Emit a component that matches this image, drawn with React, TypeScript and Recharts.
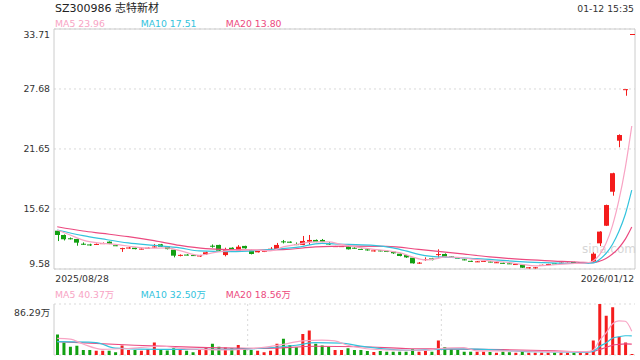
import { ComposedChart, Bar, Line, XAxis, YAxis, CartesianGrid, ReferenceArea, Cell } from 'recharts'

// daily K-line, 2025/08/28 .. 2026/01/12 (90 sessions)
const opens = [
  13.43, 13.0, 12.67, 12.6, 12.12, 12.05, 12.05, 12.12, 12.33, 11.97,
  11.62, 11.7, 11.72, 11.58, 11.68, 11.8, 12.06, 11.82, 11.52, 10.96,
  11.03, 10.98, 10.84, 11.06, 11.92, 12.0, 10.98, 11.72, 11.39, 11.9,
  11.49, 11.26, 11.3, 11.58, 11.6, 12.36, 12.33, 12.08, 12.0, 12.33,
  12.5, 12.5, 12.14, 11.83, 11.83, 11.82, 11.72, 11.6, 11.55, 11.35,
  11.45, 11.4, 11.32, 11.12, 10.98, 10.72, 10.18, 10.52, 10.65, 11.04,
  11.09, 10.85, 10.72, 10.55, 10.4, 10.3, 10.35, 10.33, 10.22, 10.2,
  10.15, 10.0, 10.02, 9.65, 9.65, 9.95, 10.03, 10.15, 10.13, 10.17,
  10.28, 10.23, 10.21, 10.32, 12.16, 13.93, 17.35, 22.48, 27.66, 33.19,
]
const highs = [
  13.5, 13.05, 12.75, 12.62, 12.25, 12.12, 12.15, 12.25, 12.36, 12.0,
  11.72, 11.8, 11.74, 11.66, 11.75, 12.1, 12.1, 11.85, 11.55, 11.05,
  11.08, 11.0, 11.0, 11.32, 12.05, 12.02, 11.72, 11.76, 11.98, 11.92,
  11.52, 11.42, 11.42, 11.78, 12.2, 12.5, 12.36, 12.25, 12.9, 13.0,
  12.55, 12.6, 12.3, 11.9, 11.9, 11.85, 11.78, 11.63, 11.6, 11.48,
  11.48, 11.42, 11.35, 11.15, 11.0, 10.75, 10.28, 10.75, 10.7, 11.56,
  11.15, 10.88, 10.75, 10.58, 10.42, 10.38, 10.42, 10.35, 10.28, 10.22,
  10.17, 10.1, 10.04, 9.78, 9.78, 10.02, 10.1, 10.17, 10.24, 10.22,
  10.3, 10.28, 10.25, 11.26, 13.38, 16.05, 19.26, 23.12, 27.66, 33.19,
]
const lows = [
  12.39, 12.45, 12.55, 11.92, 12.0, 11.9, 12.0, 12.1, 12.08, 11.88,
  11.3, 11.62, 11.55, 11.55, 11.65, 11.72, 11.8, 11.55, 10.75, 10.85,
  10.95, 10.9, 10.8, 11.0, 11.72, 11.38, 10.85, 11.45, 11.36, 11.62,
  11.05, 11.24, 11.28, 11.4, 11.58, 12.15, 12.2, 11.98, 11.98, 12.0,
  12.28, 12.28, 12.0, 11.8, 11.8, 11.54, 11.62, 11.53, 11.42, 11.33,
  11.35, 11.28, 11.1, 10.85, 10.7, 10.12, 10.1, 10.4, 10.45, 10.72,
  10.75, 10.75, 10.62, 10.45, 10.3, 10.28, 10.32, 10.25, 10.2, 10.12,
  10.08, 9.98, 9.69, 9.62, 9.62, 9.93, 10.01, 10.08, 10.11, 10.15,
  10.2, 10.21, 10.19, 10.3, 11.89, 13.9, 16.95, 21.82, 27.0, 33.19,
]
const closes = [
  13.0, 12.57, 12.57, 12.23, 12.06, 11.98, 12.1, 12.18, 12.1, 11.92,
  11.68, 11.74, 11.58, 11.63, 11.72, 11.84, 11.82, 11.58, 10.92, 11.0,
  11.0, 10.93, 10.98, 11.26, 11.88, 11.42, 11.56, 11.49, 11.82, 11.66,
  11.09, 11.39, 11.4, 11.62, 12.0, 12.32, 12.22, 12.05, 12.4, 12.5,
  12.3, 12.3, 12.1, 11.88, 11.88, 11.56, 11.68, 11.56, 11.45, 11.45,
  11.38, 11.3, 11.16, 10.89, 10.75, 10.15, 10.22, 10.58, 10.48, 11.08,
  10.78, 10.78, 10.68, 10.5, 10.35, 10.35, 10.4, 10.28, 10.26, 10.15,
  10.1, 10.08, 9.71, 9.75, 9.75, 10.0, 10.08, 10.1, 10.22, 10.2,
  10.22, 10.26, 10.23, 11.12, 13.34, 16.01, 19.21, 23.05, 27.66, 33.19,
]
// volume, 万股
const volumes = [
  34.5, 21, 14, 15.5, 8.6, 8.6, 7, 7, 7, 4.6,
  16, 8.6, 8.6, 7, 10, 21, 10, 7.5, 11.5, 8.6,
  7, 4.6, 8.6, 12.7, 19, 14, 12.7, 11.5, 17, 11.5,
  8.6, 7, 4.6, 7, 19, 27.6, 17, 13, 35.7, 41.4,
  19, 16, 14, 8.6, 8.5, 11.4, 8.5, 8.5, 6.8, 5.1,
  6.8, 5.7, 5.7, 5.7, 5.7, 10.2, 5.7, 6.8, 5.7, 24.4,
  13.6, 9.7, 8.5, 5.7, 5.7, 5.7, 5.7, 5.1, 4, 5.7,
  4.5, 4, 6.8, 4, 4, 4, 4, 4, 4, 4,
  4, 4, 4, 24.4, 86.29, 66.5, 80.7, 31, 21, 1.7,
]

// moving averages as [session, value]
const ma5Pts: [number, number][] = [
  [1, 13.5], [3, 13.0], [5, 12.49], [8, 12.15], [10, 12.06], [13, 11.8], [15, 11.67], [18, 11.7],
  [20, 11.43], [23, 10.95], [25, 11.2], [28, 11.45], [31, 11.5], [34, 11.4], [36, 11.8], [38, 12.05],
  [41, 12.3], [43, 12.3], [45, 12.05], [48, 11.72], [50, 11.56], [52, 11.43], [54, 11.22], [56, 10.8],
  [58, 10.5], [60, 10.65], [61, 10.8], [63, 10.75], [65, 10.6], [68, 10.4], [71, 10.22], [73, 10.05],
  [75, 9.9], [77, 9.95], [80, 10.1], [83, 10.2], [84, 10.39], [85, 11.0], [86, 12.14], [87, 13.92],
  [88, 16.47], [89, 19.78], [90, 23.96],
]
const ma10Pts: [number, number][] = [
  [1, 13.5], [5, 12.93], [8, 12.6], [12, 12.2], [16, 11.95], [20, 11.7], [23, 11.4], [28, 11.32],
  [33, 11.49], [38, 11.75], [42, 12.15], [46, 12.05], [50, 11.95], [53, 11.7], [55, 11.4], [57, 11.05],
  [59, 10.85], [62, 10.75], [65, 10.65], [68, 10.55], [72, 10.35], [76, 10.22], [80, 10.15], [83, 10.15],
  [84, 10.19], [85, 10.54], [86, 11.14], [87, 12.05], [88, 13.34], [89, 15.08], [90, 17.51],
]
const ma20Pts: [number, number][] = [
  [1, 13.83], [5, 13.4], [8, 13.16], [12, 12.83], [16, 12.43], [20, 11.95], [24, 11.62], [28, 11.52],
  [32, 11.49], [36, 11.52], [41, 11.8], [46, 11.88], [52, 11.85], [57, 11.56], [63, 11.16], [68, 10.8],
  [73, 10.55], [78, 10.38], [82, 10.25], [84, 10.21], [85, 10.36], [86, 10.64], [87, 11.08], [88, 11.71],
  [89, 12.58], [90, 13.8],
]
const vma5Pts: [number, number][] = [
  [1, 28], [3, 27], [5, 18.6], [8, 9.6], [12, 11], [17, 14.8], [21, 10.5], [23, 9.6], [28, 8.5],
  [33, 13], [36, 18], [39, 24], [42, 25], [44, 24], [46, 16.5], [52, 8.5], [58, 8], [60, 10.6],
  [62, 12], [64, 12.4], [66, 7], [72, 7], [80, 5.6], [83, 5.6], [84, 8.1], [85, 24.5], [86, 37],
  [87, 52.4], [88, 57.8], [89, 57.1], [90, 40.37],
]
const vma10Pts: [number, number][] = [
  [1, 22.5], [7, 21], [10, 11.6], [17, 9.6], [28, 9.6], [38, 16.5], [41, 20.8], [45, 20], [48, 15],
  [52, 10], [56, 8], [62, 10.5], [66, 10], [70, 8], [75, 5.5], [83, 5], [84, 6.2], [85, 14.3],
  [86, 20.5], [87, 28.2], [88, 30.9], [89, 32.6], [90, 32.5],
]
const vma20Pts: [number, number][] = [
  [1, 22.5], [13, 16.5], [23, 13], [33, 11], [41, 14.8], [48, 14], [55, 11], [62, 10], [70, 9],
  [78, 7], [83, 5.5], [84, 6], [85, 9.5], [86, 12.6], [87, 16.5], [88, 18], [89, 18.8], [90, 18.56],
]

const dateLabels = ['2025/08/28', '2026/01/12']
const priceTicks = [9.58, 15.62, 21.65, 27.68, 33.71]
const volTicks = [0, 86.29]
const title = 'SZ300986 志特新材'
const timeText = '01-12 15:35'
const priceLegend = ['MA5 23.96', 'MA10 17.51', 'MA20 13.80']
const volLegend = ['MA5 40.37万', 'MA10 32.50万', 'MA20 18.56万']

const FONT = '"DejaVu Sans", "Noto Sans CJK SC", sans-serif'
const RED = '#f41c1c'
const GREEN = '#12a012'
const C_MA5 = '#f8a4c4'
const C_MA10 = '#33c3dd'
const C_MA20 = '#ec4a80'
const GRID = '#d9d9d9'
const BORDER = '#cccccc'
const TEXT = '#333'
const MA_COLORS = [C_MA5, C_MA10, C_MA20]

const N = closes.length
const fromPts = (pts: [number, number][]) => {
  const arr: (number | null)[] = new Array(N).fill(null)
  pts.forEach(([b, v]) => (arr[b - 1] = v))
  return arr
}
const ma5 = fromPts(ma5Pts)
const ma10 = fromPts(ma10Pts)
const ma20 = fromPts(ma20Pts)
const vma5 = fromPts(vma5Pts)
const vma10 = fromPts(vma10Pts)
const vma20 = fromPts(vma20Pts)

const rows = closes.map((c, i) => ({
  i,
  open: opens[i],
  high: highs[i],
  low: lows[i],
  close: c,
  vol: volumes[i],
  up: c >= opens[i],
  ma5: ma5[i],
  ma10: ma10[i],
  ma20: ma20[i],
  vma5: vma5[i],
  vma10: vma10[i],
  vma20: vma20[i],
}))

function Candle(props: any) {
  const { x, y, width, height, payload } = props
  if (x == null || y == null) return <g />
  const { open, close, high, low, up } = payload
  const color = up ? RED : GREEN
  const bx = Math.round(x)
  const bw = Math.round(width)
  const span = high - low
  // one-price day (limit up at the open): just a flat dash
  if (span <= 0) {
    const yy = Math.round(y) + 0.5
    return <line x1={bx} x2={bx + bw} y1={yy} y2={yy} stroke={color} strokeWidth={1} />
  }
  const cx = Math.round(x + width / 2) + 0.5
  const k = height / span
  const at = (v: number) => y + (high - v) * k
  const top = at(Math.max(open, close))
  const bodyH = Math.max(1, at(Math.min(open, close)) - top)
  return (
    <g>
      <line x1={cx} x2={cx} y1={y} y2={y + height} stroke={color} strokeWidth={1} />
      <rect x={bx} y={top} width={bw} height={bodyH} fill={color} />
    </g>
  )
}

function PriceTick(props: any) {
  const { x, y, payload } = props
  const v = payload.value
  const dy = v === priceTicks[priceTicks.length - 1] ? 8.5 : v === priceTicks[0] ? -1.7 : 3.3
  return (
    <text x={x} y={y + dy} textAnchor="end" fill={TEXT} fontSize={9.3} fontFamily={FONT}>
      {v.toFixed(2)}
    </text>
  )
}

function VolTick(props: any) {
  const { x, y, payload } = props
  const v = payload.value
  const dy = v === 0 ? -3.3 : 11.7
  return (
    <text x={x} y={y + dy} textAnchor="end" fill={TEXT} fontSize={9.3} fontFamily={FONT}>
      {v === 0 ? '0' : `${v.toFixed(2)}万`}
    </text>
  )
}

function DateTick(props: any) {
  const { x, y, payload } = props
  const idx = payload.value
  if (idx !== 0 && idx !== N - 1) return <g />
  const first = idx === 0
  return (
    <text
      x={first ? x - 2 : x + 2.5}
      y={y + 12.7}
      textAnchor={first ? 'start' : 'end'}
      fill={TEXT}
      fontSize={9.3}
      fontFamily={FONT}
    >
      {first ? dateLabels[0] : dateLabels[1]}
    </text>
  )
}

export default function App() {
  const legendX = [55, 140.7, 225.7]
  return (
    <div style={{ position: 'absolute', left: 0, top: 0, width: 640, height: 360, background: '#fff', fontFamily: FONT }}>
      <svg width={640} height={360} style={{ position: 'absolute', left: 0, top: 0 }}>
        <text x={55} y={12} fontSize={11} fill="#222" fontFamily={FONT}>{title}</text>
        <text x={634} y={12} fontSize={9.3} fill={TEXT} textAnchor="end" fontFamily={FONT}>{timeText}</text>
        {priceLegend.map((t, k) => (
          <text key={t} x={legendX[k]} y={26.7} fontSize={9.3} fill={MA_COLORS[k]} fontFamily={FONT}>{t}</text>
        ))}
        {volLegend.map((t, k) => (
          <text key={t} x={legendX[k]} y={298.3} fontSize={9.3} fill={MA_COLORS[k]} fontFamily={FONT}>{t}</text>
        ))}
        <text x={582} y={253} fontSize={12} fill="#d6d6d6" fontFamily={FONT}>sina.com</text>
      </svg>

      <div style={{ position: 'absolute', left: 0, top: 0 }}>
        <ComposedChart width={640} height={290} data={rows} margin={{ top: 29, right: 5, bottom: 0, left: 0 }}>
          <CartesianGrid stroke={GRID} strokeDasharray="2 3" vertical={false} />
          <ReferenceArea y1={priceTicks[0]} y2={priceTicks[priceTicks.length - 1]} fill="none" stroke={BORDER} strokeWidth={1} />
          <XAxis
            dataKey="i"
            type="category"
            interval={0}
            height={21}
            axisLine={false}
            tickLine={false}
            tickSize={0}
            tickMargin={0}
            tick={DateTick}
          />
          <YAxis
            type="number"
            domain={[priceTicks[0], priceTicks[priceTicks.length - 1]]}
            ticks={priceTicks}
            allowDataOverflow
            width={54}
            axisLine={false}
            tickLine={false}
            tickSize={0}
            tickMargin={4}
            tick={PriceTick}
          />
          <Bar dataKey={(d: any) => [d.low, d.high]} barSize={5} shape={Candle} isAnimationActive={false} />
          <Line type="monotone" dataKey="ma20" stroke={C_MA20} strokeWidth={1.2} dot={false} connectNulls isAnimationActive={false} />
          <Line type="monotone" dataKey="ma10" stroke={C_MA10} strokeWidth={1.2} dot={false} connectNulls isAnimationActive={false} />
          <Line type="monotone" dataKey="ma5" stroke={C_MA5} strokeWidth={1.2} dot={false} connectNulls isAnimationActive={false} />
        </ComposedChart>
      </div>

      <div style={{ position: 'absolute', left: 0, top: 285 }}>
        <ComposedChart width={640} height={75} data={rows} margin={{ top: 19, right: 5, bottom: 5, left: 0 }}>
          <CartesianGrid
            stroke={GRID}
            strokeDasharray="2 3"
            verticalCoordinatesGenerator={({ offset }: any) => [
              offset.left + offset.width / 3,
              offset.left + (2 * offset.width) / 3,
            ]}
          />
          <XAxis dataKey="i" type="category" hide />
          <YAxis
            type="number"
            domain={[0, volTicks[1]]}
            ticks={volTicks}
            allowDataOverflow
            width={54}
            axisLine={{ stroke: BORDER }}
            tickLine={false}
            tickSize={0}
            tickMargin={4}
            tick={VolTick}
          />
          <YAxis yAxisId="r" orientation="right" domain={[0, volTicks[1]]} width={0} tick={false} tickLine={false} axisLine={{ stroke: BORDER }} />
          <Bar dataKey="vol" barSize={3} isAnimationActive={false}>
            {rows.map((r) => (
              <Cell key={r.i} fill={r.up ? RED : GREEN} />
            ))}
          </Bar>
          <Line type="monotone" dataKey="vma20" stroke={C_MA20} strokeWidth={1.2} dot={false} connectNulls isAnimationActive={false} />
          <Line type="monotone" dataKey="vma10" stroke={C_MA10} strokeWidth={1.2} dot={false} connectNulls isAnimationActive={false} />
          <Line type="monotone" dataKey="vma5" stroke={C_MA5} strokeWidth={1.2} dot={false} connectNulls isAnimationActive={false} />
        </ComposedChart>
      </div>
    </div>
  )
}
